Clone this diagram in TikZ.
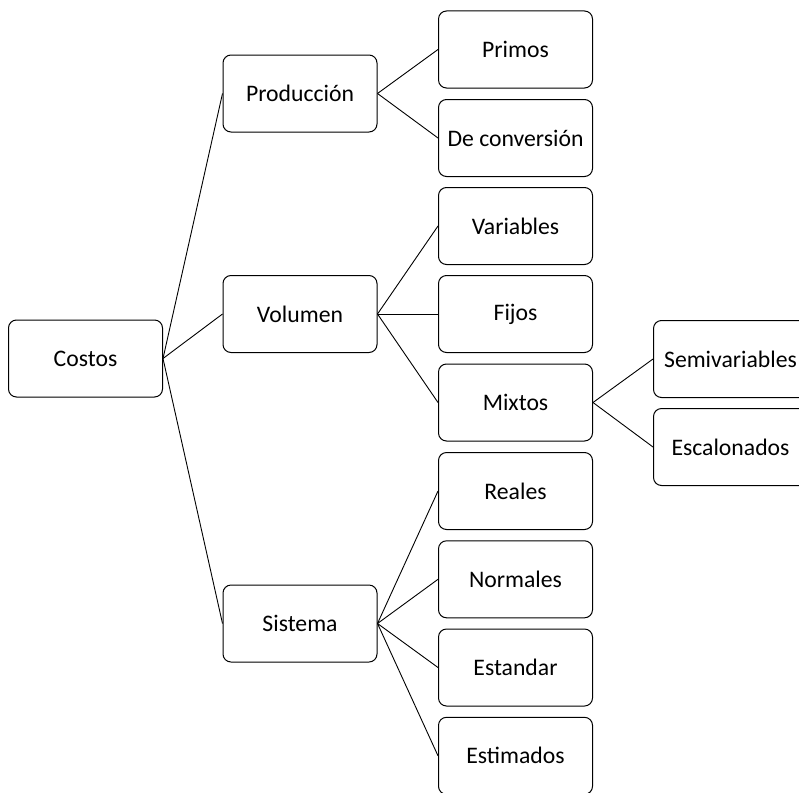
\documentclass[tikz,border=0pt]{standalone}
\usepackage{fontspec}
\setmainfont{Carlito}
\begin{document}
\begin{tikzpicture}[x=1pt,y=-1pt,
  box/.style={draw=black, line width=1pt, rounded corners=8pt, fill=white,
    minimum width=154pt, minimum height=77pt, inner sep=0pt,
    font=\fontsize{23.7}{28}\selectfont},
  link/.style={draw=black, line width=0.9pt}]
\useasboundingbox (0,0) rectangle (799,792);
\clip (0,0) rectangle (799,792);
% root
\node[box] (costos) at (85.5,358.5) {Costos};
% first level
\node[box] (prod) at (300,93.5) {Producción};
\node[box] (vol)  at (300,314)  {Volumen};
\node[box] (sis)  at (300,623.5) {Sistema};
% second level
\node[box] (primos) at (515.5,49.5)  {Primos};
\node[box] (conv)   at (515.5,138)   {De conversión};
\node[box] (var)    at (515.5,226)   {Variables};
\node[box] (fijos)  at (515.5,314)   {Fijos};
\node[box] (mixtos) at (515.5,402.5) {Mixtos};
\node[box] (reales) at (515.5,491)   {Reales};
\node[box] (norm)   at (515.5,579.3) {Normales};
\node[box] (est)    at (515.5,667.5) {Estandar};
\node[box] (estim)  at (515.5,755.8) {Estimados};
% third level
\node[box] (semi) at (730.5,359) {Semivariables};
\node[box] (esc)  at (730.5,447) {Escalonados};
% connectors
\foreach \c in {prod,vol,sis} \draw[link] (costos.east) -- (\c.west);
\foreach \c in {primos,conv} \draw[link] (prod.east) -- (\c.west);
\foreach \c in {var,fijos,mixtos} \draw[link] (vol.east) -- (\c.west);
\foreach \c in {reales,norm,est,estim} \draw[link] (sis.east) -- (\c.west);
\foreach \c in {semi,esc} \draw[link] (mixtos.east) -- (\c.west);
\end{tikzpicture}
\end{document}
